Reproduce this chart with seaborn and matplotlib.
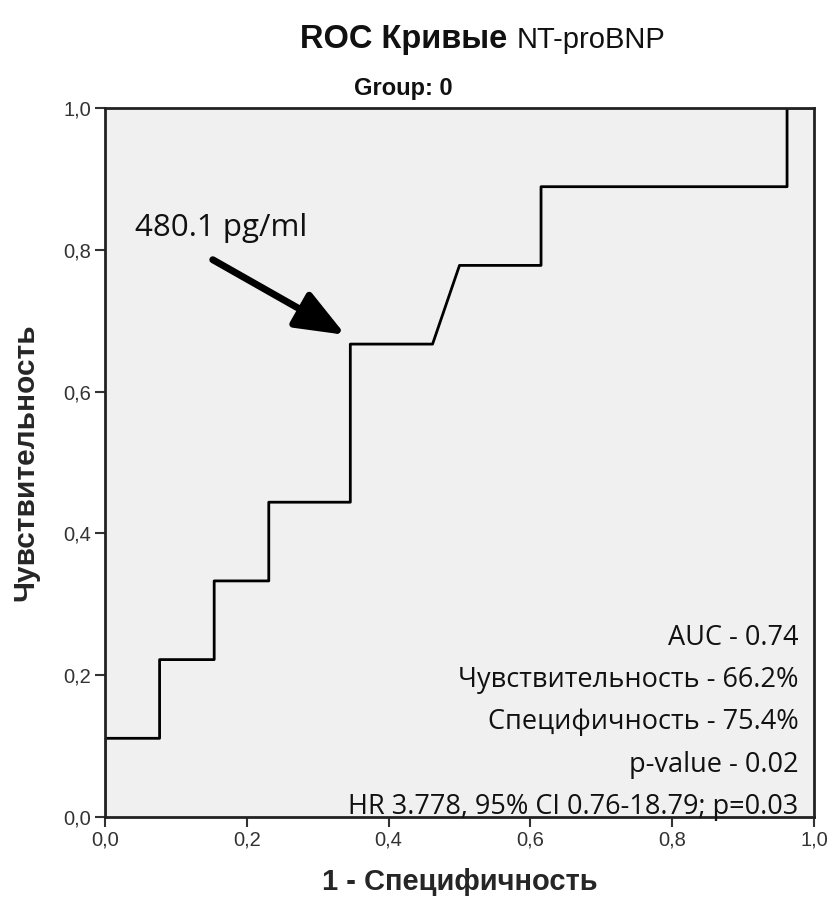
import matplotlib
matplotlib.use("Agg")
import matplotlib.pyplot as plt
import seaborn as sns
import pandas as pd

# ROC curve vertices (1 - specificity, sensitivity)
fpr = [0.0, 0.0, 0.077, 0.077, 0.154, 0.154, 0.231, 0.231, 0.346, 0.346,
       0.462, 0.500, 0.615, 0.615, 0.962, 0.962, 1.0]
tpr = [0.0, 0.111, 0.111, 0.222, 0.222, 0.333, 0.333, 0.444, 0.444, 0.667,
       0.667, 0.778, 0.778, 0.889, 0.889, 1.0, 1.0]

# cut-off point marked by the arrow
cutoff_label = "480.1 pg/ml"
cutoff_point = (0.339, 0.680)
cutoff_text_pos = (0.042, 0.831)
arrow_tail = (0.152, 0.786)

stats_lines = [
    "AUC - 0.74",
    "Чувствительность - 66.2%",
    "Специфичность - 75.4%",
    "p-value - 0.02",
    "HR 3.778, 95% CI 0.76-18.79; p=0.03",
]

tick_values = [0.0, 0.2, 0.4, 0.6, 0.8, 1.0]
tick_labels = ["0,0", "0,2", "0,4", "0,6", "0,8", "1,0"]

sns.set_theme(style="white")
plt.rcParams["font.family"] = ["Liberation Sans", "DejaVu Sans"]

fig = plt.figure(figsize=(8.32, 9.06), dpi=100)
ax = fig.add_axes([105 / 832, 1 - 817 / 906, 709 / 832, 709 / 906])
ax.set_facecolor("#f0f0f0")

df = pd.DataFrame({"fpr": fpr, "tpr": tpr})
sns.lineplot(data=df, x="fpr", y="tpr", sort=False, estimator=None,
             color="black", linewidth=2.0, ax=ax)

ax.set_xlim(0, 1)
ax.set_ylim(0, 1)
ax.set_xticks(tick_values)
ax.set_xticklabels(tick_labels)
ax.set_yticks(tick_values)
ax.set_yticklabels(tick_labels)
ax.tick_params(axis="both", direction="out", length=7, width=1.5,
               color="#333333", labelsize=14.5, labelcolor="#333333", pad=3)
ax.tick_params(axis="x", bottom=True)
ax.tick_params(axis="y", left=True)
for sp in ax.spines.values():
    sp.set_color("#222222")
    sp.set_linewidth(2.0)

ax.set_xlabel("1 - Специфичность", fontsize=21, fontweight="bold", labelpad=13)
ax.set_ylabel("Чувствительность", fontsize=21.5, fontweight="bold", labelpad=17)

# arrow pointing at the chosen cut-off
ax.annotate("", xy=cutoff_point, xytext=arrow_tail,
            arrowprops=dict(arrowstyle="-|>,head_length=2.5,head_width=1.0",
                            color="black", lw=5, shrinkA=0, shrinkB=0))
ax.text(cutoff_text_pos[0], cutoff_text_pos[1], cutoff_label,
        fontsize=22.5, family=["Open Sans", "DejaVu Sans"],
        va="center", ha="left", color="#111111")

# summary statistics, right aligned
y0 = 0.2525
for i, line in enumerate(stats_lines):
    ax.text(0.978, y0 - i * 0.0595, line, transform=ax.transAxes,
            fontsize=19.5, family=["Open Sans", "DejaVu Sans"],
            ha="right", va="center", color="#111111")

# titles
fig.text(300 / 832, 1 - 48 / 906, "ROC Кривые", fontsize=23.5, fontweight="bold",
         ha="left", va="baseline", color="#111111")
fig.text(517 / 832, 1 - 48 / 906, "NT-proBNP", fontsize=21,
         ha="left", va="baseline", color="#111111")
fig.text(403 / 832, 1 - 95 / 906, "Group: 0", fontsize=17, fontweight="bold",
         ha="center", va="baseline", color="#111111")

fig.savefig("out.png", dpi=100)
